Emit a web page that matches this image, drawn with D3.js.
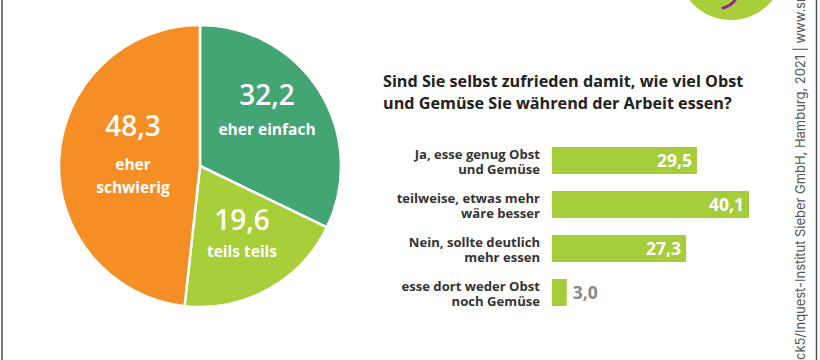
<!DOCTYPE html>
<html><head><meta charset="utf-8">
<script src="https://cdn.jsdelivr.net/npm/d3@7"></script>
<style>body{margin:0;background:#fff}svg{display:block}</style>
</head><body>
<svg id="c" width="820" height="360"></svg>
<script>
// ---- data ----
const pieLabels = ["eher einfach", "teils teils", "eher schwierig"];
const pieValues = [32.2, 19.6, 48.3];
const pieColors = ["#43a574", "#a8cf3a", "#f58e24"];
const barLabels = [["Ja, esse genug Obst", "und Gemüse"], ["teilweise, etwas mehr", "wäre besser"], ["Nein, sollte deutlich", "mehr essen"], ["esse dort weder Obst", "noch Gemüse"]];
const barValues = [29.5, 40.1, 27.3, 3.0];
const titleLines = ["Sind Sie selbst zufrieden damit, wie viel Obst", "und Gemüse Sie während der Arbeit essen?"];
const sourceText = "Grafik: snack5/Inquest-Institut Sieber GmbH, Hamburg, 2021 | www.snack5.de";

const fmt = v => v.toFixed(1).replace(".", ",");
const svg = d3.select("#c");
const FONT = "'Open Sans', 'Noto Sans', sans-serif";

// frame lines
svg.append("line").attr("x1", 2).attr("x2", 2).attr("y1", 0).attr("y2", 360).attr("stroke", "#777").attr("stroke-width", 2);
svg.append("line").attr("x1", 816.5).attr("x2", 816.5).attr("y1", 0).attr("y2", 360).attr("stroke", "#555").attr("stroke-width", 1.5);

// logo (partially visible)
const logo = svg.append("g").attr("transform", "translate(731,-33)");
logo.append("circle").attr("r", 53).attr("fill", "#a8cf3a");
logo.append("path").attr("d", "M-8,41 Q2,38 6,30").attr("fill", "none").attr("stroke", "#8a2b95").attr("stroke-width", 3).attr("stroke-linecap", "round");

// ---- pie ----
const cx = 200, cy = 166, R = 141;
const pie = d3.pie().sort(null).value(d => d)(pieValues);
const arc = d3.arc().innerRadius(0).outerRadius(R);
const pg = svg.append("g").attr("transform", `translate(${cx},${cy})`);
pg.selectAll("path").data(pie).join("path")
  .attr("d", arc).attr("fill", (d, i) => pieColors[i])
  .attr("stroke", "#fff").attr("stroke-width", 2.5).attr("stroke-linejoin", "round");

const labelPos = [
  {num: [267, 105], lines: [267, 135]},
  {num: [242, 230], lines: [242, 257]},
  {num: [133, 136], lines: [133, 170]}
];
const pieText = [["eher einfach"], ["teils teils"], ["eher", "schwierig"]];
pie.forEach((d, i) => {
  const lp = labelPos[i];
  svg.append("text").attr("x", lp.num[0]).attr("y", lp.num[1])
    .attr("text-anchor", "middle").attr("fill", "#fff")
    .attr("font-family", FONT).attr("font-weight", 600).attr("font-size", 28)
    .text(fmt(pieValues[i]));
  const t = svg.append("text").attr("x", lp.lines[0]).attr("y", lp.lines[1])
    .attr("text-anchor", "middle").attr("fill", "#fff")
    .attr("font-family", FONT).attr("font-weight", 700).attr("font-size", 15.5);
  pieText[i].forEach((s, j) => {
    t.append("tspan").attr("x", lp.lines[0]).attr("dy", j ? 23 : 0).text(s);
  });
});

// ---- title ----
titleLines.forEach((t, i) => {
  svg.append("text").attr("x", 383).attr("y", 87 + i * 22)
    .attr("fill", "#222").attr("font-family", FONT).attr("font-weight", 700).attr("font-size", 16.2)
    .text(t);
});

// ---- bars ----
const x = d3.scaleLinear().domain([0, 40.1]).range([552, 749]);
const y = d3.scaleBand().domain(d3.range(barValues.length)).range([147, 306]).paddingInner(0.386).paddingOuter(0);
const bg = svg.append("g");
bg.selectAll("rect").data(barValues).join("rect")
  .attr("x", x(0)).attr("y", (d, i) => y(i))
  .attr("width", d => x(d) - x(0)).attr("height", y.bandwidth())
  .attr("fill", "#a5cd39");
barValues.forEach((v, i) => {
  const inside = x(v) - x(0) > 40;
  svg.append("text")
    .attr("x", inside ? x(v) - 5 : x(v) + 6)
    .attr("y", y(i) + y.bandwidth() / 2 + 6.5)
    .attr("text-anchor", inside ? "end" : "start")
    .attr("fill", inside ? "#fff" : "#888")
    .attr("font-family", FONT).attr("font-weight", 700).attr("font-size", 17.5)
    .text(fmt(v));
  const lt = svg.append("text").attr("x", 540).attr("y", y(i) + y.bandwidth() / 2 - 1.5)
    .attr("text-anchor", "end").attr("fill", "#333")
    .attr("font-family", FONT).attr("font-weight", 700).attr("font-size", 13.1);
  barLabels[i].forEach((t, j) => {
    lt.append("tspan").attr("x", 540).attr("dy", j ? 14.6 : 0).text(t);
  });
});

// ---- source (vertical) ----
const src = svg.append("text")
  .attr("transform", "translate(805,360) rotate(-90)")
  .attr("fill", "#555").attr("font-family", "Inter, 'Open Sans', sans-serif").attr("font-size", 13)
  .text(sourceText);
const node = src.node();
const i0 = sourceText.indexOf("ck5/"), i1 = sourceText.indexOf("2021") + 4;
const natural = node.getSubStringLength(i0, i1 - i0);
const ls = (305 - natural) / (i1 - i0);
src.attr("letter-spacing", ls);
const off = src.node().getSubStringLength(0, i0);
src.attr("x", -off);
</script>
</body></html>
